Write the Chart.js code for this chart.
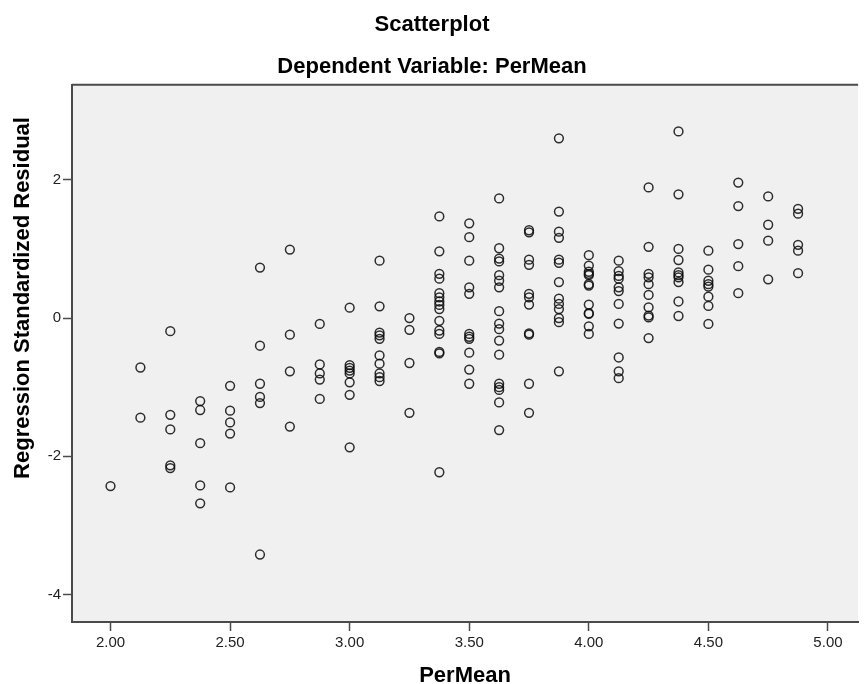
<!DOCTYPE html>
<html>
<head>
<meta charset="utf-8">
<title>Scatterplot</title>
<script src="https://cdn.jsdelivr.net/npm/chart.js@4.4.1/dist/chart.umd.min.js"></script>
<style>
  html, body { margin: 0; padding: 0; background: #fff; }
  #wrap { width: 864px; height: 684px; }
</style>
</head>
<body>
<div id="wrap"><canvas id="chart" width="864" height="684"></canvas></div>
<script>
// PerMean levels found in the data (x values)
const perMeanLevels = [2.0, 2.125, 2.25, 2.375, 2.5, 2.625, 2.75, 2.875, 3.0, 3.125, 3.25, 3.375,
  3.5, 3.625, 3.75, 3.875, 4.0, 4.125, 4.25, 4.375, 4.5, 4.625, 4.75, 4.875];

// Regression standardized residuals, one list per PerMean level
const residualsByLevel = [
  [-2.43],
  [-0.715, -1.44],
  [-0.19, -1.40, -1.61, -2.13, -2.17],
  [-1.20, -1.33, -1.81, -2.42, -2.68],
  [-0.98, -1.34, -1.51, -1.67, -2.45],
  [0.73, -0.40, -0.95, -1.14, -1.23, -3.42],
  [0.99, -0.24, -0.77, -1.57],
  [-0.085, -0.67, -0.80, -0.89, -1.17],
  [0.15, -0.68, -0.72, -0.76, -0.80, -0.93, -1.11, -1.87],
  [0.83, 0.17, -0.21, -0.25, -0.30, -0.54, -0.66, -0.80, -0.855, -0.91],
  [0.0, -0.17, -0.65, -1.37],
  [1.47, 0.965, 0.64, 0.57, 0.36, 0.30, 0.24, 0.19, 0.13, -0.04, -0.18, -0.23, -0.49, -0.51, -2.23],
  [1.37, 1.17, 0.83, 0.445, 0.35, -0.23, -0.27, -0.30, -0.50, -0.745, -0.95],
  [1.73, 1.01, 0.86, 0.82, 0.62, 0.54, 0.445, 0.10, -0.08, -0.16, -0.325, -0.53, -0.95, -1.0, -1.04, -1.22, -1.62],
  [1.27, 1.24, 0.845, 0.77, 0.35, 0.30, 0.195, -0.22, -0.24, -0.95, -1.37],
  [2.60, 1.54, 1.25, 1.16, 0.845, 0.80, 0.52, 0.28, 0.205, 0.13, 0.0, -0.06, -0.77],
  [0.91, 0.76, 0.67, 0.64, 0.62, 0.49, 0.47, 0.195, 0.07, 0.06, -0.12, -0.23],
  [0.83, 0.68, 0.61, 0.57, 0.445, 0.39, 0.205, -0.08, -0.57, -0.77, -0.87],
  [1.89, 1.03, 0.64, 0.59, 0.49, 0.335, 0.156, 0.036, 0.01, -0.29],
  [2.70, 1.79, 1.0, 0.84, 0.66, 0.62, 0.59, 0.52, 0.24, 0.03],
  [0.975, 0.70, 0.54, 0.49, 0.455, 0.31, 0.175, -0.085],
  [1.96, 1.62, 1.07, 0.75, 0.36],
  [1.76, 1.35, 1.12, 0.56],
  [1.58, 1.51, 1.06, 0.975, 0.65]
];

// Tick labels on the two axes
const xTicks = [2.0, 2.5, 3.0, 3.5, 4.0, 4.5, 5.0];
const yTicks = [-4, -2, 0, 2];

// Flatten into {x, y} points for the scatter dataset
const points = [];
perMeanLevels.forEach((level, i) => {
  residualsByLevel[i].forEach((r) => points.push({ x: level, y: r }));
});

const axisColor = "#4a4a4a";
const fontFamily = "'Liberation Sans', Arial, sans-serif";

// Grey plot background, white page, top frame line, rotated y title
const plotFrame = {
  id: "plotFrame",
  beforeDraw(chart) {
    const { ctx, chartArea: a } = chart;
    ctx.save();
    ctx.fillStyle = "#ffffff";
    ctx.fillRect(0, 0, chart.width, chart.height);
    ctx.fillStyle = "#f0f0f0";
    ctx.fillRect(a.left, a.top, a.right - a.left, a.bottom - a.top);
    ctx.restore();
  },
  afterDraw(chart) {
    const { ctx, chartArea: a } = chart;
    ctx.save();
    ctx.strokeStyle = axisColor;
    ctx.lineWidth = 2;
    ctx.beginPath();
    ctx.moveTo(a.left, a.top);
    ctx.lineTo(a.right, a.top);
    ctx.stroke();

    // y axis title, SPSS puts it a bit above the middle
    ctx.translate(23, 298);
    ctx.rotate(-Math.PI / 2);
    ctx.fillStyle = "#000";
    ctx.font = "bold 22px " + fontFamily;
    ctx.textAlign = "center";
    ctx.textBaseline = "middle";
    ctx.fillText("Regression Standardized Residual", 0, 0);
    ctx.restore();
  }
};

const canvas = document.getElementById("chart");

new Chart(canvas, {
  type: "scatter",
  data: {
    datasets: [
      {
        label: "Residual",
        data: points,
        pointStyle: "circle",
        pointRadius: 4.4,
        pointHoverRadius: 4.4,
        borderWidth: 1.5,
        borderColor: "rgba(10, 10, 10, 0.85)",
        backgroundColor: "rgba(0, 0, 0, 0)"
      }
    ]
  },
  options: {
    responsive: false,
    animation: false,
    layout: { padding: 0 },
    plugins: {
      legend: { display: false },
      tooltip: { enabled: false },
      title: {
        display: true,
        text: "Scatterplot",
        color: "#000",
        font: { family: fontFamily, size: 22, weight: "bold", lineHeight: 1.2 },
        padding: { top: 12, bottom: 0 }
      },
      subtitle: {
        display: true,
        text: "Dependent Variable: PerMean",
        color: "#000",
        font: { family: fontFamily, size: 22, weight: "bold", lineHeight: 1.2 },
        padding: { top: 15, bottom: 5 }
      }
    },
    scales: {
      x: {
        type: "linear",
        min: 1.839,
        max: 5.126,
        afterBuildTicks: (scale) => {
          scale.ticks = xTicks.map((v) => ({ value: v }));
        },
        afterFit: (scale) => {
          scale.height = 62;
        },
        grid: {
          drawOnChartArea: false,
          drawTicks: true,
          tickLength: 9,
          tickWidth: 1.5,
          tickColor: axisColor
        },
        border: { display: true, color: axisColor, width: 2 },
        ticks: {
          color: "#222",
          padding: 3,
          maxRotation: 0,
          font: { family: fontFamily, size: 15 },
          callback: (v) => Number(v).toFixed(2)
        },
        title: {
          display: true,
          text: "PerMean",
          color: "#000",
          font: { family: fontFamily, size: 22, weight: "bold", lineHeight: 1 },
          padding: { top: 0, bottom: -3 }
        }
      },
      y: {
        type: "linear",
        min: -4.396,
        max: 3.374,
        afterBuildTicks: (scale) => {
          scale.ticks = yTicks.map((v) => ({ value: v }));
        },
        afterFit: (scale) => {
          scale.width = 72;
        },
        grid: {
          drawOnChartArea: false,
          drawTicks: true,
          tickLength: 9,
          tickWidth: 1.5,
          tickColor: axisColor
        },
        border: { display: true, color: axisColor, width: 2 },
        ticks: {
          color: "#222",
          padding: 2,
          font: { family: fontFamily, size: 15 },
          callback: (v) => String(v)
        }
      }
    }
  },
  plugins: [plotFrame]
});
</script>
</body>
</html>
